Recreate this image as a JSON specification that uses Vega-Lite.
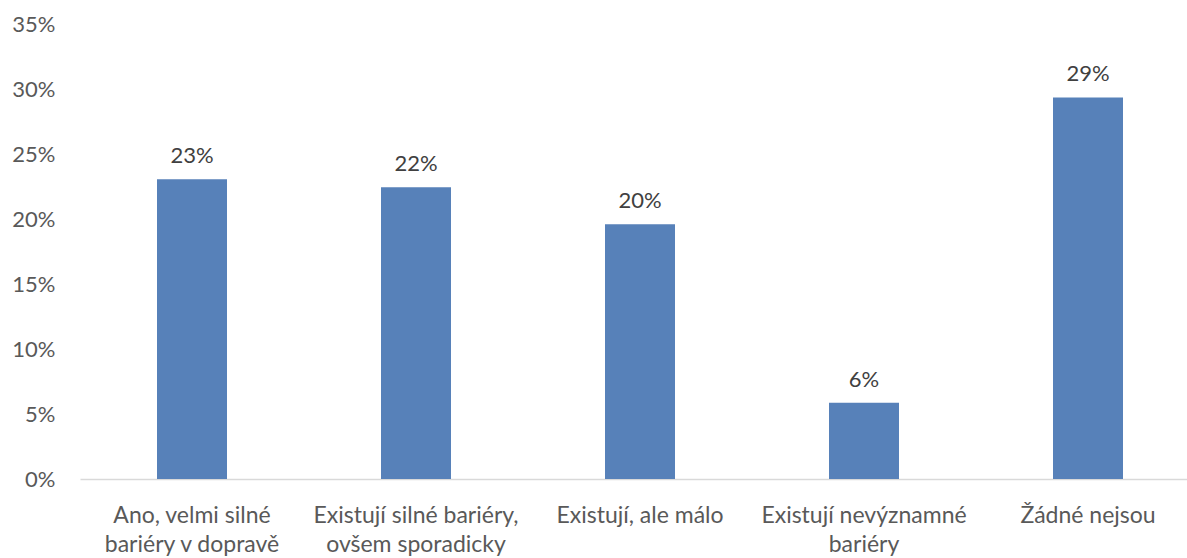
{
  "$schema": "https://vega.github.io/schema/vega-lite/v6.json",
  "width": 1120,
  "height": 455,
  "autosize": {"type": "none"},
  "padding": {"left": 80, "top": 24, "right": 0, "bottom": 79},
  "background": "white",
  "config": {"view": {"stroke": null}, "font": "Lato"},
  "data": {
    "values": [
      {"kategorie": "Ano, velmi silné bariéry v dopravě", "podil": 0.2305},
      {"kategorie": "Existují silné bariéry, ovšem sporadicky", "podil": 0.2245},
      {"kategorie": "Existují, ale málo", "podil": 0.196},
      {"kategorie": "Existují nevýznamné bariéry", "podil": 0.0587},
      {"kategorie": "Žádné nejsou", "podil": 0.2935}
    ]
  },
  "encoding": {
    "x": {
      "field": "kategorie",
      "type": "nominal",
      "sort": null,
      "scale": {"paddingInner": 0.6875, "paddingOuter": 0.34375},
      "axis": {
        "title": null,
        "labelAngle": 0,
        "labelFont": "Lato",
        "labelFontSize": 23,
        "labelColor": "#595959",
        "labelPadding": 25,
        "labelLineHeight": 29,
        "labelBaseline": "top",
        "labelLimit": 300,
        "ticks": false,
        "domainColor": "#d9d9d9",
        "domainWidth": 1.5,
        "labelExpr": "datum.value == 'Ano, velmi silné bariéry v dopravě' ? ['Ano, velmi silné', 'bariéry v dopravě'] : datum.value == 'Existují silné bariéry, ovšem sporadicky' ? ['Existují silné bariéry,', 'ovšem sporadicky'] : datum.value == 'Existují nevýznamné bariéry' ? ['Existují nevýznamné', 'bariéry'] : datum.value"
      }
    },
    "y": {
      "field": "podil",
      "type": "quantitative",
      "scale": {"domain": [0, 0.35], "nice": false},
      "axis": {
        "title": null,
        "format": ".0%",
        "values": [0, 0.05, 0.1, 0.15, 0.2, 0.25, 0.3, 0.35],
        "grid": false,
        "domain": false,
        "ticks": false,
        "labelFont": "Lato",
        "labelFontSize": 22,
        "labelColor": "#595959",
        "labelPadding": 25
      }
    }
  },
  "layer": [
    {"mark": {"type": "bar", "color": "#5781b9"}},
    {
      "mark": {"type": "text", "baseline": "alphabetic", "dy": -16, "fontSize": 22, "font": "Lato", "color": "#404040"},
      "encoding": {"text": {"field": "podil", "type": "quantitative", "format": ".0%"}}
    }
  ]
}
